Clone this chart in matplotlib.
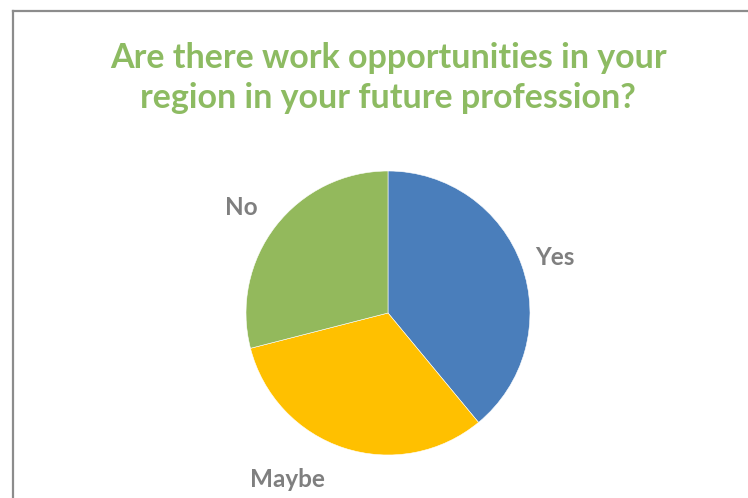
import matplotlib
matplotlib.use("Agg")
import numpy as np
from matplotlib import pyplot as plt
from matplotlib.lines import Line2D

# survey answers (share of respondents, %)
answers = ["Yes", "Maybe", "No"]
shares = [39, 32, 29]
colors = ["#4a7ebb", "#ffc000", "#93b95c"]
title = "Are there work opportunities in your\nregion in your future profession?"

W, H = 748, 498
fig = plt.figure(figsize=(W / 100, H / 100), dpi=100)
fig.patch.set_facecolor("white")

# chart frame: only the left and top edges are inside the picture
frame = "#8c8c8c"
fig.add_artist(Line2D([13 / W, 13 / W], [0, 1 - 11 / H], color=frame, lw=1.6,
                      transform=fig.transFigure))
fig.add_artist(Line2D([13 / W, 1], [1 - 11 / H, 1 - 11 / H], color=frame, lw=1.6,
                      transform=fig.transFigure))

fig.text(388 / W, 1 - 78 / H, title, ha="center", va="center",
         fontsize=24.5, fontweight="bold", family="Lato", color="#8dbb62",
         linespacing=1.3)

# pie centred at (388, 313) px, radius 142 px
cx, cy, r = 388, 313, 142
ax = fig.add_axes([(cx - r) / W, (H - cy - r) / H, 2 * r / W, 2 * r / H])
wedges, texts = ax.pie(shares, labels=answers, colors=colors, startangle=90,
                       counterclock=False, radius=1.0, labeldistance=1.25,
                       wedgeprops=dict(linewidth=0.4, edgecolor="white"),
                       textprops=dict(fontsize=17.5, fontweight="bold",
                                      family="Lato", color="#7f7f7f"))
ax.set_xlim(-1, 1)
ax.set_ylim(-1, 1)
ax.set_aspect("equal")
ax.axis("off")

# Excel-style label placement around the wedges
label_dist = {"Yes": 1.24, "Maybe": 1.37, "No": 1.27}
label_turn = {"Yes": -1.5, "Maybe": -13, "No": 2}
for w, t in zip(wedges, texts):
    name = t.get_text()
    mid = np.deg2rad((w.theta1 + w.theta2) / 2 + label_turn[name])
    d = label_dist[name]
    t.set_position((d * np.cos(mid), d * np.sin(mid)))
    t.set_ha("center")
    t.set_va("center")
    t.set_clip_on(False)

fig.savefig("out.png", dpi=100)
